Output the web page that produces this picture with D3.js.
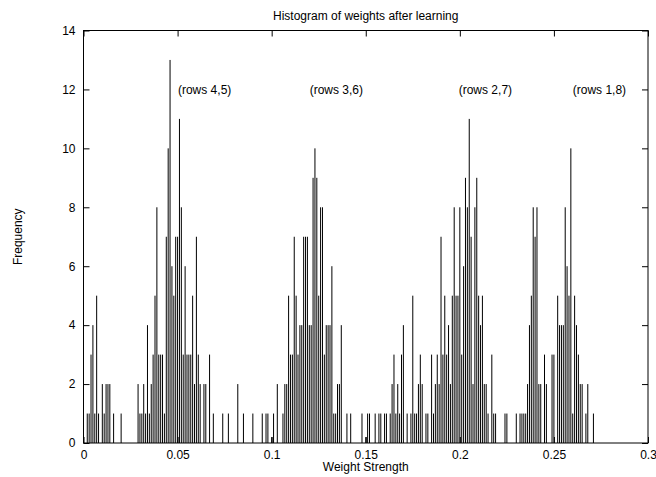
<!DOCTYPE html>
<html>
<head>
<meta charset="utf-8">
<script src="https://cdn.jsdelivr.net/npm/d3@7"></script>
<style>
  html, body { margin: 0; padding: 0; background: #fff; }
  svg text { font-family: "Liberation Sans", Arial, Helvetica, sans-serif; font-size: 12px; fill: #000; }
</style>
</head>
<body>
<svg id="chart" width="656" height="477"></svg>
<script>
"use strict";

// bin width 0.001, counts for bins starting at 0.000, 0.070, 0.140, 0.210
var binWidth = 0.001;
var countsA = [0,0,1,1,3,4,1,5,1,0, 2,1,2,2,2,0,1,0,0,0, 1,0,0,0,0,0,0,0,0,2,
               1,1,2,1,4,1,2,3,5,8, 3,3,3,1,7,10,13,6,5,7, 7,11,8,3,6,3,3,3,5,2,
               7,3,2,0,2,2,0,3,0,1];
var countsB = [0,0,0,0,1,0,0,1,0,0, 0,0,2,0,0,1,0,0,0,0, 1,0,0,0,0,1,0,1,1,0,
               0.2,1,0,2,0,0,1,2,2,5, 3,3,7,5,3,4,4,7,7,7, 4,4,9,10,9,5,8,8,3,4,
               4,4,6,1,1,2,2,4,0,0];
var countsC = [1,0,1,0,0,0,0,0,1,0, 0.2,1,1,0,0,1,0,1,1,0, 1,1,0,1,2,3,1,2,1,3,
               4,0,1,0,1,5,1,1,2,3, 2,0,1,1,0,3,1,2,3,2, 7,3,5,3,4,2,5,8,5,5,
               8,3,6,9,8,11,7,2,8,9];
var countsD = [5,4,5,2,2,1,0,3,1,1, 0,0,0,0,1,1,0,0,0,0, 1,0,1,1,1,1,2,4,5,8,
               7,8,2,2,0,3,2,0,0,3, 3,0,5,4,4,4,8,6,5,10, 1,5,4,3,2,2,0,1,2,0,
               0,1];

var xTicks = [0, 0.05, 0.1, 0.15, 0.2, 0.25, 0.3];
var yTicks = [0, 2, 4, 6, 8, 10, 12, 14];

var rowLabels = [
    { text: "(rows 4,5)", x: 0.0502, y: 12 },
    { text: "(rows 3,6)", x: 0.1202, y: 12 },
    { text: "(rows 2,7)", x: 0.1994, y: 12 },
    { text: "(rows 1,8)", x: 0.2600, y: 12 }
];

var titleText = "Histogram of weights after learning";
var xLabelText = "Weight Strength";
var yLabelText = "Frequency";

var counts = countsA.concat(countsB, countsC, countsD);
var bins = counts.map(function(c, i) { return { x: i * binWidth, count: c }; })
    .filter(function(d) { return d.count > 0; });

var margin = { left: 83.5, right: 8, top: 30.5, bottom: 34 };
var width = 656, height = 477;

var svg = d3.select("#chart");

var x = d3.scaleLinear().domain([0, 0.3]).range([margin.left, width - margin.right]);
var y = d3.scaleLinear().domain([0, 14]).range([height - margin.bottom, margin.top]);

var fmt = function(d) { return d === 0 ? "0" : String(+d.toFixed(2)); };

// impulses
svg.append("g")
    .attr("class", "impulses")
    .selectAll("line")
    .data(bins)
    .enter()
    .append("line")
    .attr("x1", function(d) { return x(d.x); })
    .attr("x2", function(d) { return x(d.x); })
    .attr("y1", y(0))
    .attr("y2", function(d) { return y(d.count); })
    .attr("stroke", "#000")
    .attr("stroke-width", 1);

// axes, ticks drawn inward on all four sides
var axisB = svg.append("g")
    .attr("transform", "translate(0," + y(0) + ")")
    .call(d3.axisBottom(x).tickValues(xTicks).tickFormat(fmt).tickSizeInner(-6).tickSizeOuter(0).tickPadding(7));
var axisT = svg.append("g")
    .attr("transform", "translate(0," + y(14) + ")")
    .call(d3.axisTop(x).tickValues(xTicks).tickFormat("").tickSizeInner(-6).tickSizeOuter(0));
var axisL = svg.append("g")
    .attr("transform", "translate(" + x(0) + ",0)")
    .call(d3.axisLeft(y).tickValues(yTicks).tickFormat(d3.format("d")).tickSizeInner(-6).tickSizeOuter(0).tickPadding(8));
var axisR = svg.append("g")
    .attr("transform", "translate(" + x(0.3) + ",0)")
    .call(d3.axisRight(y).tickValues(yTicks).tickFormat("").tickSizeInner(-6).tickSizeOuter(0));

[axisB, axisT, axisL, axisR].forEach(function(g) {
    g.select(".domain").remove();
    g.selectAll("text").attr("font-family", null).attr("font-size", null);
    g.selectAll(".tick line").attr("stroke", "#000");
});

// frame
svg.append("rect")
    .attr("x", x(0))
    .attr("y", y(14))
    .attr("width", x(0.3) - x(0))
    .attr("height", y(0) - y(14))
    .attr("fill", "none")
    .attr("stroke", "#000")
    .attr("stroke-width", 1);

// labels inside the plot
svg.append("g")
    .selectAll("text")
    .data(rowLabels)
    .enter()
    .append("text")
    .attr("x", function(d) { return x(d.x); })
    .attr("y", function(d) { return y(d.y); })
    .attr("dy", "0.35em")
    .text(function(d) { return d.text; });

svg.append("text")
    .attr("x", (x(0) + x(0.3)) / 2)
    .attr("y", 20)
    .attr("text-anchor", "middle")
    .text(titleText);

svg.append("text")
    .attr("x", (x(0) + x(0.3)) / 2)
    .attr("y", 471)
    .attr("text-anchor", "middle")
    .text(xLabelText);

svg.append("text")
    .attr("transform", "translate(22," + ((y(0) + y(14)) / 2) + ") rotate(-90)")
    .attr("text-anchor", "middle")
    .text(yLabelText);
</script>
</body>
</html>
